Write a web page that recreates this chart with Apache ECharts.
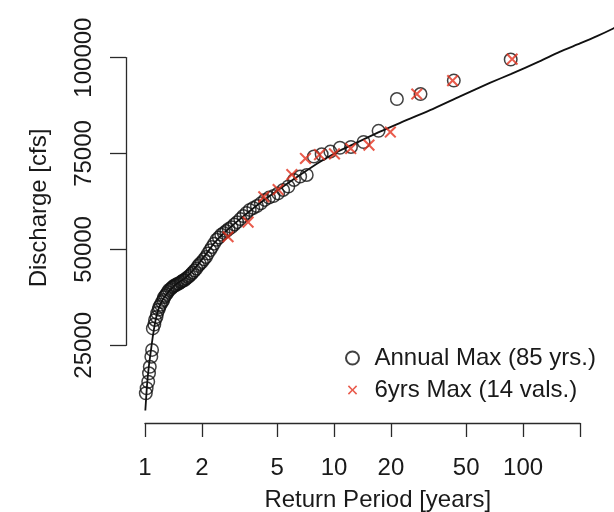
<!DOCTYPE html>
<html><head><meta charset="utf-8">
<script src="https://cdn.jsdelivr.net/npm/echarts@6/dist/echarts.min.js"></script>
<style>html,body{margin:0;padding:0;background:#fff}#c{width:614px;height:512px}</style>
</head><body><div id="c"></div>
<script>
// ---- data ----
const annualT = [86, 43, 28.67, 21.5, 17.2, 14.33, 12.29, 10.75, 9.56, 8.6,
  7.82, 7.17, 6.62, 6.14, 5.73, 5.38, 5.06, 4.78, 4.53, 4.3,
  4.1, 3.91, 3.74, 3.58, 3.44, 3.31, 3.19, 3.07, 2.97, 2.87,
  2.77, 2.69, 2.61, 2.53, 2.46, 2.39, 2.32, 2.26, 2.21, 2.15,
  2.1, 2.05, 2.0, 1.95, 1.91, 1.87, 1.83, 1.79, 1.76, 1.72,
  1.69, 1.65, 1.62, 1.59, 1.56, 1.54, 1.51, 1.48, 1.46, 1.43,
  1.41, 1.39, 1.37, 1.34, 1.32, 1.3, 1.28, 1.26, 1.25, 1.23,
  1.21, 1.19, 1.18, 1.16, 1.15, 1.13, 1.12, 1.1, 1.09, 1.08,
  1.06, 1.05, 1.04, 1.02, 1.01];
const annualQ = [99500, 94000, 90500, 89200, 80900, 78000, 76700, 76500, 75500, 74800,
  74200, 69400, 69000, 68100, 66400, 65500, 64600, 63900, 63500, 62900,
  62000, 61300, 60800, 60300, 59500, 58700, 57900, 57100, 56500, 55800,
  55300, 54800, 54300, 53800, 53100, 52500, 51500, 50600, 49800, 48900,
  48000, 47400, 46700, 46200, 45700, 45000, 44500, 44000, 43600, 43100,
  42800, 42400, 42000, 41900, 41600, 41400, 41100, 41000, 40700, 40600,
  40300, 40100, 39700, 39400, 38900, 38400, 37900, 37500, 36800, 36300,
  35600, 35000, 34300, 33400, 32400, 31600, 30400, 29400, 23800, 22000,
  19400, 17700, 15500, 13800, 12500];
const sixT = [87.5, 42.4, 27.4, 19.85, 15.3, 12.25, 10.05, 8.38, 7.06, 5.98, 5.06, 4.25, 3.51, 2.75];
const sixQ = [99600, 94000, 90500, 80600, 77200, 76300, 74900, 74700, 73700, 69500, 65600, 63700, 57100, 53300];
const fitT = [1.004, 1.025, 1.05, 1.076, 1.103, 1.144, 1.2, 1.29, 1.44, 1.63, 1.84, 2.07, 2.33, 2.62,
  3.18, 4.06, 5.13, 6.6, 8.4, 10.7, 13.8, 17.5, 22.4, 32.2, 46.4, 66.7, 86, 122, 156, 200, 246, 300, 360];
const fitQ = [8000, 14650, 19860, 23800, 27700, 32100, 35500, 38100, 40700, 42500, 45150, 48300, 51700, 54300,
  57900, 62100, 65700, 69400, 72800, 75700, 78300, 80700, 83000, 86300, 89900, 93400, 95700, 99000, 101500, 103700, 105600, 107600, 109600];
const xTickValues = [1, 2, 5, 10, 20, 50, 100, 200];
const xLabelValues = [1, 2, 5, 10, 20, 50, 100];
const yTickValues = [25000, 50000, 75000, 100000];
const seriesNames = ['Annual Max (85 yrs.)', '6yrs Max (14 vals.)'];
const xTitle = 'Return Period [years]';
const yTitle = 'Discharge [cfs]';

// ---- layout calibration (pixels) ----
const L = {x1: 145, x200: 580, y25k: 345.3, y100k: 57.6, plotLeft: 127.6, plotRight: 628, plotTop: -6, plotBottom: 422};
const pxPerDecade = (L.x200 - L.x1) / Math.log10(200);
const pxPerUnit = (L.y25k - L.y100k) / 75000;
const xMinMain = Math.pow(10, (L.plotLeft - L.x1) / pxPerDecade);
const xMaxMain = Math.pow(10, (L.plotRight - L.x1) / pxPerDecade);
const yMinMain = 25000 - (L.plotBottom - L.y25k) / pxPerUnit;
const yMaxMain = 100000 + (L.y100k - L.plotTop) / pxPerUnit;

const FONT = '"Liberation Sans", Arial, Helvetica, sans-serif';
const TXT = '#1a1a1a';
const AX = '#2a2a2a';
const RED = '#e3321f';
const XPATH = 'path://M-2,-2L-2,-2ZM12,12L12,12ZM0,1.2L1.2,0L5,3.8L8.8,0L10,1.2L6.2,5L10,8.8L8.8,10L5,6.2L1.2,10L0,8.8L3.8,5Z';

const chart = echarts.init(document.getElementById('c'), null, {renderer: 'canvas'});
chart.setOption({
  backgroundColor: '#fff',
  animation: false,
  grid: [
    {left: L.plotLeft, top: L.plotTop, width: L.plotRight - L.plotLeft, height: L.plotBottom - L.plotTop, outerBoundsMode: 'none', containLabel: false},
    {left: L.x1, top: 300, width: L.x200 - L.x1, height: 423 - 300, outerBoundsMode: 'none', containLabel: false},
    {left: 126, top: L.y100k, width: 100, height: L.y25k - L.y100k, outerBoundsMode: 'none', containLabel: false}
  ],
  xAxis: [
    {gridIndex: 0, type: 'log', logBase: 10, min: xMinMain, max: xMaxMain,
     axisLine: {show: false}, axisTick: {show: false}, axisLabel: {show: false}, splitLine: {show: false},
     name: xTitle, nameLocation: 'middle', nameGap: 66,
     nameTextStyle: {fontSize: 24, color: TXT, fontFamily: FONT}},
    {gridIndex: 1, type: 'value', min: 0, max: Math.log10(200),
     axisLine: {show: true, lineStyle: {color: AX, width: 1.3}},
     axisTick: {show: true, length: 14, inside: false, customValues: xTickValues.map(Math.log10), lineStyle: {color: AX, width: 1.3}},
     axisLabel: {show: true, margin: 33, fontSize: 24, color: TXT, fontFamily: FONT,
       customValues: xLabelValues.map(Math.log10),
       formatter: v => String(Math.round(Math.pow(10, v)))},
     splitLine: {show: false}},
    {gridIndex: 2, type: 'value', show: false, min: 0, max: 1}
  ],
  yAxis: [
    {gridIndex: 0, type: 'value', min: yMinMain, max: yMaxMain,
     axisLine: {show: false}, axisTick: {show: false}, axisLabel: {show: false}, splitLine: {show: false},
     name: yTitle, nameLocation: 'middle', nameGap: 76,
     nameTextStyle: {fontSize: 24, color: TXT, fontFamily: FONT}},
    {gridIndex: 1, type: 'value', show: false, min: 0, max: 1},
    {gridIndex: 2, type: 'value', min: 25000, max: 100000, interval: 25000,
     axisLine: {show: true, lineStyle: {color: AX, width: 1.3}},
     axisTick: {show: true, length: 16, inside: false, customValues: yTickValues, lineStyle: {color: AX, width: 1.3}},
     axisLabel: {show: true, rotate: 90, margin: 30, fontSize: 24, color: TXT, fontFamily: FONT,
       customValues: yTickValues, formatter: v => String(v)},
     splitLine: {show: false}}
  ],
  legend: {
    orient: 'vertical', left: 340, top: 341, itemWidth: 34, itemHeight: 13, itemGap: 8,
    selectedMode: false,
    textStyle: {fontSize: 24, color: TXT, fontFamily: FONT, lineHeight: 24},
    data: seriesNames
  },
  series: [
    {name: seriesNames[0], type: 'scatter', xAxisIndex: 0, yAxisIndex: 0,
     symbol: 'circle', symbolSize: 12.5,
     itemStyle: {color: 'rgba(0,0,0,0)', borderColor: '#111', borderWidth: 1.5},
     data: annualT.map((t, i) => [t, annualQ[i]]), z: 3},
    {name: seriesNames[1], type: 'scatter', xAxisIndex: 0, yAxisIndex: 0,
     symbol: XPATH, symbolSize: 17, symbolKeepAspect: true,
     itemStyle: {color: RED},
     data: sixT.map((t, i) => [t, sixQ[i]]), z: 4},
    {name: 'fit', type: 'line', xAxisIndex: 0, yAxisIndex: 0, showSymbol: false, smooth: 0.2,
     lineStyle: {color: '#111', width: 1.8}, silent: true,
     data: fitT.map((t, i) => [t, fitQ[i]]), z: 2}
  ]
});
</script></body></html>
